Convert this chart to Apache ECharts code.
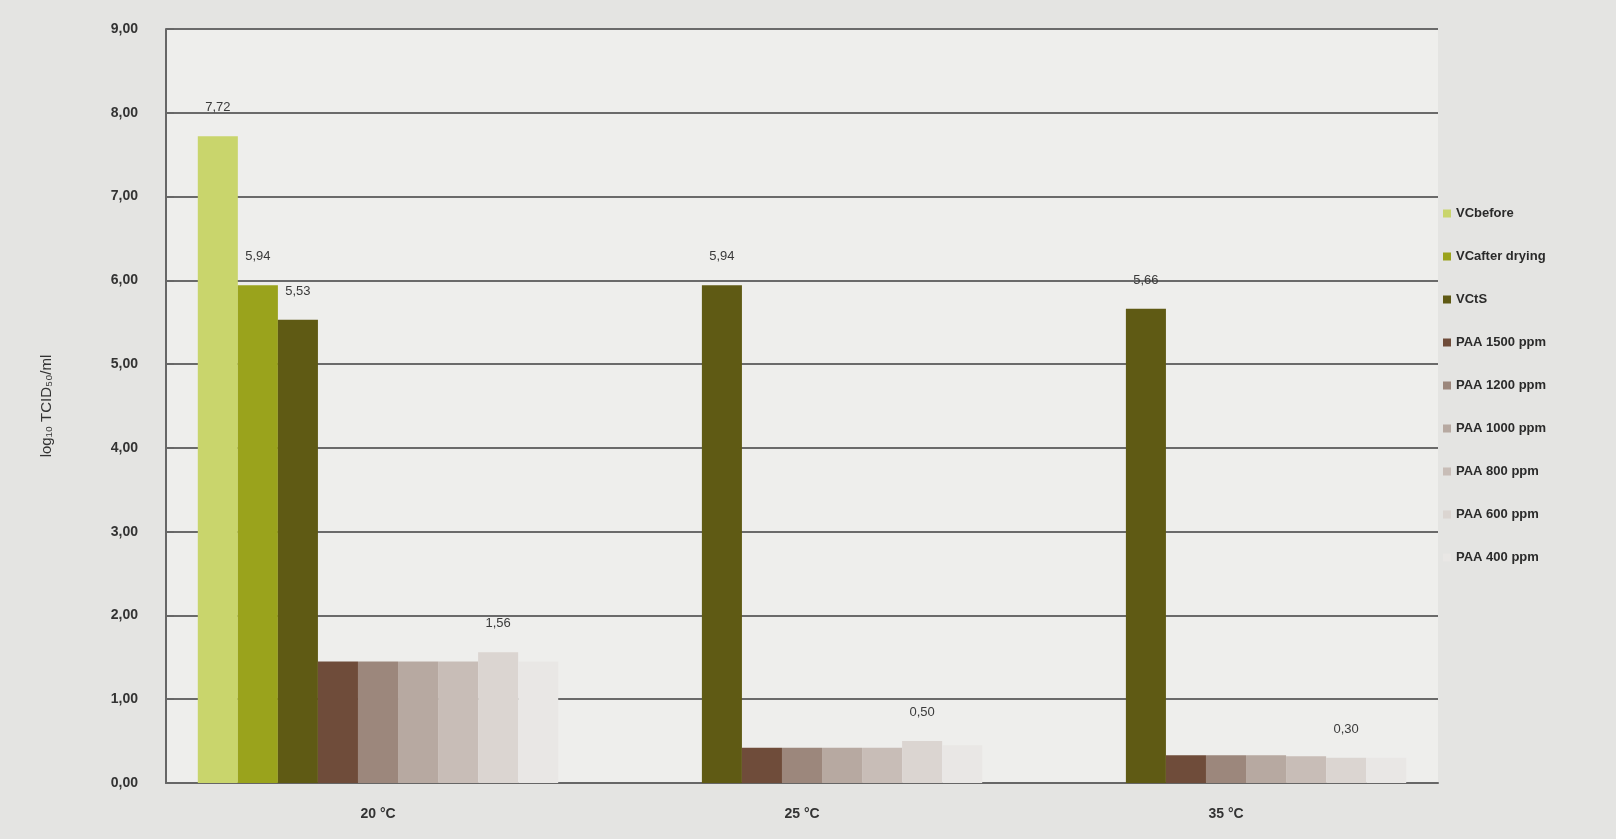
<!DOCTYPE html>
<html>
<head>
<meta charset="utf-8">
<title>log10 TCID50/ml</title>
<script src="https://cdn.jsdelivr.net/npm/echarts@6/dist/echarts.min.js"></script>
<style>
  html, body { margin: 0; padding: 0; background: #e4e4e2; }
  #chart { width: 1616px; height: 839px; }
</style>
</head>
<body>
<div id="chart"></div>
<script>
// Temperature groups on the x axis
const categories = ['20 °C', '25 °C', '35 °C'];

// Series names (legend order)
const seriesNames = [
  'VCbefore', 'VCafter drying', 'VCtS',
  'PAA 1500 ppm', 'PAA 1200 ppm', 'PAA 1000 ppm',
  'PAA 800 ppm', 'PAA 600 ppm', 'PAA 400 ppm'
];

// log10 titres per series, one value per temperature (null = not measured)
const vcBefore   = [7.72, null, null];
const vcAfter    = [5.94, null, null];
const vcTS       = [5.53, 5.94, 5.66];
const paa1500    = [1.45, 0.42, 0.33];
const paa1200    = [1.45, 0.42, 0.33];
const paa1000    = [1.45, 0.42, 0.33];
const paa800     = [1.45, 0.42, 0.32];
const paa600     = [1.56, 0.50, 0.30];
const paa400     = [1.45, 0.45, 0.30];

// Y axis tick labels
const yTicks = ['0,00', '1,00', '2,00', '3,00', '4,00', '5,00', '6,00', '7,00', '8,00', '9,00'];

const seriesData = [vcBefore, vcAfter, vcTS, paa1500, paa1200, paa1000, paa800, paa600, paa400];
const colors = ['#c9d56c', '#9aa31c', '#5f5a14', '#6f4c3a', '#9c877c', '#b7a9a1', '#c8bdb7', '#dbd5d1', '#e9e7e5'];
const labelled = [true, true, true, false, false, false, false, true, false];

const fmt = v => v.toFixed(2).replace('.', ',');

const chart = echarts.init(document.getElementById('chart'));
chart.setOption({
  backgroundColor: '#e4e4e2',
  animation: false,
  textStyle: { fontFamily: 'Liberation Sans, Arial, sans-serif' },
  grid: { left: 166, right: 178, top: 29, bottom: 56, show: true, backgroundColor: '#eeeeec', borderWidth: 0 },
  legend: {
    orient: 'vertical',
    left: 1438,
    top: 202,
    itemGap: 30,
    itemWidth: 8,
    itemHeight: 8,
    icon: 'rect',
    textStyle: { fontSize: 13, color: '#2a2a2a', fontWeight: 'bold' },
    data: seriesNames
  },
  xAxis: {
    type: 'category',
    data: categories,
    axisLine: { lineStyle: { color: '#666', width: 2 } },
    axisTick: { show: false },
    axisLabel: { fontSize: 14, color: '#333', margin: 24, fontWeight: 'bold' }
  },
  yAxis: {
    type: 'value',
    min: 0,
    max: 9,
    interval: 1,
    name: 'log₁₀ TCID₅₀/ml',
    nameLocation: 'middle',
    nameGap: 112,
    nameTextStyle: { fontSize: 15, color: '#333' },
    axisLine: { show: true, lineStyle: { color: '#666', width: 2 } },
    axisTick: { show: true, length: 8, inside: true, lineStyle: { color: '#666', width: 2 } },
    axisLabel: {
      fontSize: 14, color: '#333', margin: 28, fontWeight: 'bold',
      formatter: v => yTicks[Math.round(v)]
    },
    splitLine: { lineStyle: { color: '#6a6a6a', width: 2 } }
  },
  series: seriesNames.map((name, i) => ({
    name: name,
    type: 'bar',
    data: seriesData[i],
    barGap: '0%',
    barCategoryGap: '15%',
    itemStyle: { color: colors[i] },
    label: {
      show: labelled[i],
      position: 'top',
      distance: 22,
      fontSize: 13,
      color: '#3a3a3a',
      formatter: p => (p.value == null ? '' : fmt(p.value))
    }
  }))
});
</script>
</body>
</html>
